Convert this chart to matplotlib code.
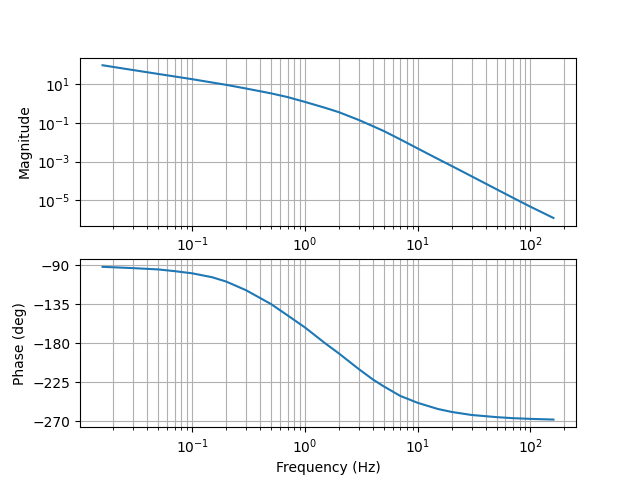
import numpy as np
import matplotlib.pyplot as plt

# values
freq_hz = [0.016, 0.02, 0.03, 0.05, 0.07, 0.1, 0.15, 0.2, 0.3, 0.4, 0.5, 0.7, 1,
           1.5, 2, 3, 4, 5, 7, 10, 15, 20, 30, 50, 70, 100, 160]
mag_log10 = [1.97, 1.88, 1.72, 1.52, 1.39, 1.25, 1.08, 0.96, 0.77, 0.63, 0.52,
             0.33, 0.08, -0.22, -0.45, -0.85, -1.17, -1.42, -1.85, -2.32,
             -2.85, -3.22, -3.75, -4.42, -4.86, -5.32, -5.9]
phase_deg = [-92, -92.5, -93.5, -95, -97, -99.5, -104, -109, -119, -128, -135,
             -148, -162, -180, -192, -210, -222, -230, -241, -249, -256,
             -259.5, -263, -265.5, -266.7, -267.5, -268.3]

fig, (ax1, ax2) = plt.subplots(2, 1)

ax1.loglog(freq_hz, 10 ** np.array(mag_log10))
ax1.set_ylabel("Magnitude")
ax1.grid(True, which="both")

ax2.semilogx(freq_hz, phase_deg)
ax2.set_yticks([-90, -135, -180, -225, -270])
ax2.set_ylabel("Phase (deg)")
ax2.set_xlabel("Frequency (Hz)")
ax2.grid(True, which="both")

fig.savefig("out.png", dpi=100)
